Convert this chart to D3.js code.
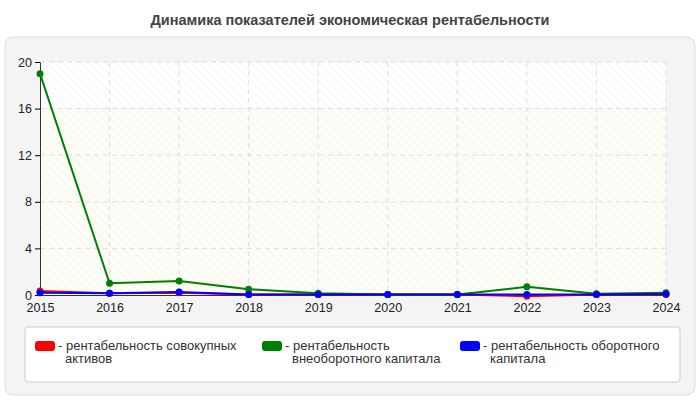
<!DOCTYPE html>
<html><head><meta charset="utf-8">
<script src="https://cdn.jsdelivr.net/npm/d3@7"></script>
<style>body{margin:0;background:#fff;font-family:Arial,"Liberation Sans",sans-serif}</style>
</head><body><div id="chart"></div>
<script>
var years = [2015,2016,2017,2018,2019,2020,2021,2022,2023,2024];
var assetsRet = [0.35,0.15,0.2,0.05,0.05,0.05,0.05,-0.1,0.05,0.05];
var fixedRet = [19.0,1.0,1.2,0.5,0.15,0.05,0.05,0.7,0.1,0.2];
var currentRet = [0.2,0.15,0.25,0.05,0.05,0.05,0.05,0.05,0.05,0.08];
var yTicks = [0,4,8,12,16,20];
var colors = ["#ff0000","#008000","#0000ff"];

var svg = d3.select("#chart").append("svg").attr("width",700).attr("height",400);
var defs = svg.append("defs");
var pat = defs.append("pattern").attr("id","hatch").attr("width",6).attr("height",6)
  .attr("patternUnits","userSpaceOnUse").attr("patternTransform","rotate(-45)");
pat.append("line").attr("x1",0).attr("y1",0).attr("x2",0).attr("y2",6).attr("stroke","#eee").attr("stroke-width",1);

svg.append("text").attr("x",350).attr("y",25).attr("text-anchor","middle")
  .attr("font-size",14.5).attr("font-weight","bold").attr("fill","#444")
  .text("Динамика показателей экономическая рентабельности");
svg.append("rect").attr("x",5).attr("y",37).attr("width",690).attr("height",358).attr("rx",8)
  .attr("fill","#f4f4f4").attr("stroke","#ddd");

var x = d3.scaleLinear().domain([2015,2024]).range([40,666]);
var y = d3.scaleLinear().domain([0,20]).range([295,62]);

svg.append("rect").attr("x",40).attr("y",y(20)).attr("width",626).attr("height",y(16)-y(20)).attr("fill","#fff");
svg.append("rect").attr("x",40).attr("y",y(16)).attr("width",626).attr("height",y(0)-y(16)).attr("fill","#fdfdf5");
svg.append("rect").attr("x",40).attr("y",y(20)).attr("width",626).attr("height",y(0)-y(20)).attr("fill","url(#hatch)");

var g = svg.append("g");
g.selectAll(".hg").data(yTicks.slice(1)).enter().append("line")
  .attr("x1",40).attr("x2",666).attr("y1",d=>y(d)).attr("y2",d=>y(d))
  .attr("stroke","#ddd").attr("stroke-dasharray","5,4");
g.selectAll(".vg").data(years.slice(1)).enter().append("line")
  .attr("x1",d=>x(d)).attr("x2",d=>x(d)).attr("y1",y(20)).attr("y2",y(0))
  .attr("stroke","#ddd").attr("stroke-dasharray","5,4");

var yAxis = svg.append("g").attr("transform","translate(40,0)")
  .call(d3.axisLeft(y).tickValues(yTicks).tickSize(5).tickSizeOuter(0));
var xAxis = svg.append("g").attr("transform","translate(0,"+y(0)+")")
  .call(d3.axisBottom(x).tickValues(years).tickFormat(d3.format("d")).tickSize(0).tickPadding(8));
[yAxis,xAxis].forEach(function(a){
  a.selectAll("text").attr("font-size",12.5).attr("fill","#222").attr("font-family","Arial,'Liberation Sans',sans-serif");
  a.select(".domain").attr("stroke","#333");
});

var data = [assetsRet,fixedRet,currentRet];
var line = d3.line().x((d,i)=>x(years[i])).y(d=>y(d));
data.forEach(function(vals,k){
  svg.append("path").datum(vals).attr("d",line).attr("fill","none").attr("stroke",colors[k]).attr("stroke-width",2);
  svg.selectAll(".p"+k).data(vals).enter().append("circle")
    .attr("cx",(d,i)=>x(years[i])).attr("cy",d=>y(d)).attr("r",3.5).attr("fill",colors[k]);
});

svg.append("rect").attr("x",25).attr("y",327).attr("width",655).attr("height",55).attr("rx",3)
  .attr("fill","#fff").attr("stroke","#ccc");
var legX = [35,262,460];
var lines = [["- рентабельность совокупных","активов"],["- рентабельность","внеоборотного капитала"],["- рентабельность оборотного","капитала"]];
lines.forEach(function(t,k){
  svg.append("rect").attr("x",legX[k]).attr("y",341).attr("width",20).attr("height",10).attr("rx",3).attr("fill",colors[k]);
  var tx = svg.append("text").attr("x",legX[k]+23).attr("y",350).attr("font-size",13).attr("fill","#333");
  tx.append("tspan").text(t[0]);
  tx.append("tspan").attr("x",legX[k]+30).attr("dy",13).text(t[1]);
});
</script></body></html>
